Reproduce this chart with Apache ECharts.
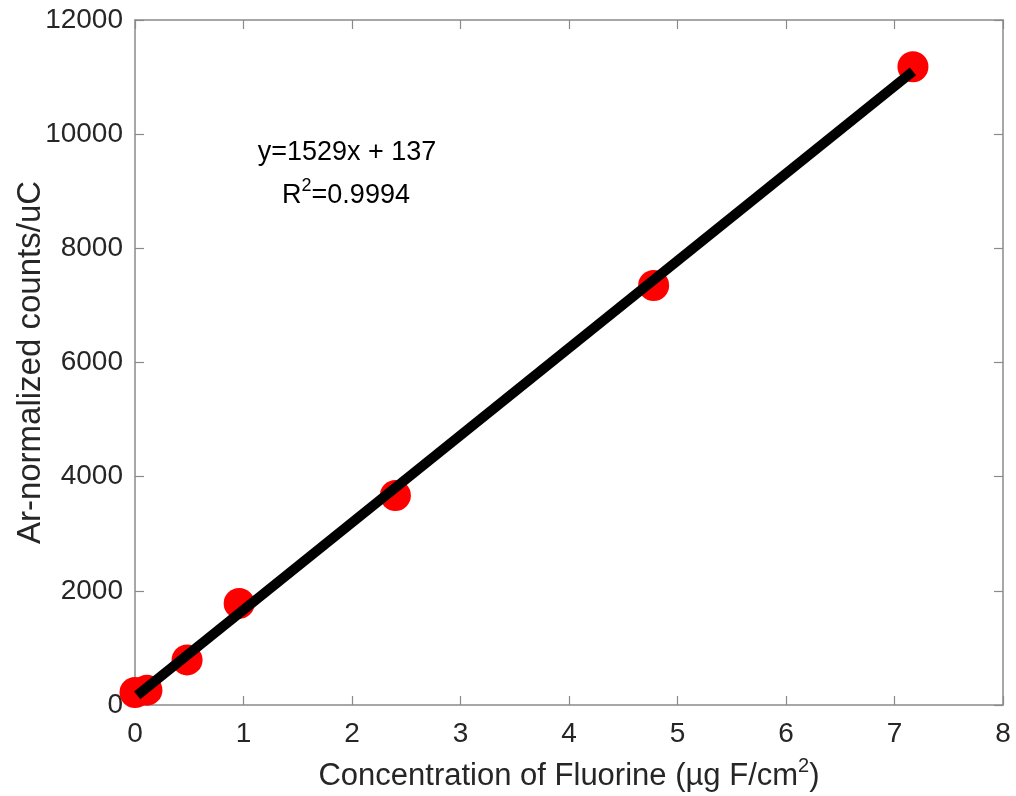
<!DOCTYPE html>
<html>
<head>
<meta charset="utf-8">
<script src="https://cdn.jsdelivr.net/npm/echarts@6/dist/echarts.min.js"></script>
<style>
html,body{margin:0;padding:0;background:#fff;}
#chart{width:1016px;height:796px;}
</style>
</head>
<body>
<div id="chart"></div>
<script>
const concentration = [0.0, 0.11, 0.48, 0.96, 2.40, 4.78, 7.17];
const counts = [220, 260, 790, 1780, 3670, 7350, 11180];
// Fit line endpoints (y=1529x + 137)
const fitX = [0.02, 7.17];
const fitY = [168, 11100];
const xTicks = [0, 1, 2, 3, 4, 5, 6, 7, 8];
const yTicks = [0, 2000, 4000, 6000, 8000, 10000, 12000];
const eqText = 'y=1529x + 137';
const r2Value = '0.9994';

const FONT = "'Liberation Sans', Arial, Helvetica, sans-serif";
const AX = '#8a8a8a';
const TXT = '#262626';

const chart = echarts.init(document.getElementById('chart'), null, {renderer: 'canvas'});

const hideLabelAxisCommon = {
  axisLine: {show: true, onZero: false, lineStyle: {color: AX, width: 1.5}},
  axisTick: {show: true, inside: true, length: 9, lineStyle: {color: AX, width: 1.2}},
  axisLabel: {show: false},
  splitLine: {show: false}
};

chart.setOption({
  animation: false,
  backgroundColor: '#fff',
  grid: {left: 135, right: 13, top: 20, bottom: 91, containLabel: false, outerBoundsMode: 'none'},
  xAxis: [{
    type: 'value', min: xTicks[0], max: xTicks[xTicks.length - 1], interval: 1,
    name: '{a|Concentration of Fluorine (µg F/cm}{s|2}{a|)}',
    nameLocation: 'middle', nameGap: 51, nameMoveOverlap: false,
    nameTextStyle: {
      rich: {
        a: {fontFamily: FONT, fontSize: 31, color: TXT, verticalAlign: 'bottom', lineHeight: 36},
        s: {fontFamily: FONT, fontSize: 20, color: TXT, verticalAlign: 'top', lineHeight: 36, padding: [0, 0, 16, 0]}
      }
    },
    axisLine: {show: true, onZero: false, lineStyle: {color: AX, width: 1.5}},
    axisTick: {show: true, inside: true, length: 9, lineStyle: {color: AX, width: 1.2}},
    axisLabel: {show: true, fontFamily: FONT, fontSize: 28, color: TXT, margin: 15, formatter: v => String(v)},
    splitLine: {show: false}
  }, Object.assign({
    type: 'value', position: 'top', min: xTicks[0], max: xTicks[xTicks.length - 1], interval: 1
  }, hideLabelAxisCommon)],
  yAxis: [{
    type: 'value', min: yTicks[0], max: yTicks[yTicks.length - 1], interval: 2000,
    name: 'Ar-normalized counts/uC',
    nameLocation: 'middle', nameGap: 88, nameMoveOverlap: false,
    nameTextStyle: {fontFamily: FONT, fontSize: 33, color: TXT},
    axisLine: {show: true, onZero: false, lineStyle: {color: AX, width: 1.5}},
    axisTick: {show: true, inside: true, length: 9, lineStyle: {color: AX, width: 1.2}},
    axisLabel: {show: true, fontFamily: FONT, fontSize: 28, color: TXT, margin: 12, formatter: v => String(v)},
    splitLine: {show: false}
  }, Object.assign({
    type: 'value', position: 'right', min: yTicks[0], max: yTicks[yTicks.length - 1], interval: 2000
  }, hideLabelAxisCommon)],
  series: [{
    type: 'scatter',
    data: concentration.map((c, i) => [c, counts[i]]),
    symbol: 'circle',
    symbolSize: 31,
    itemStyle: {color: '#ff0000', opacity: 1},
    z: 2
  }, {
    type: 'line',
    data: fitX.map((x, i) => [x, fitY[i]]),
    showSymbol: false,
    symbol: 'none',
    lineStyle: {color: '#000', width: 10, cap: 'butt'},
    z: 3
  }],
  graphic: [{
    type: 'text', x: 347, y: 153, z: 10,
    style: {
      text: eqText, align: 'center', verticalAlign: 'middle',
      font: '27px ' + FONT, fill: '#000'
    }
  }, {
    type: 'text', x: 346, y: 193, z: 10,
    style: {
      text: '{a|R}{s|2}{a|=' + r2Value + '}', align: 'center', verticalAlign: 'middle',
      rich: {
        a: {fontFamily: FONT, fontSize: 27, fill: '#000', verticalAlign: 'bottom', lineHeight: 32},
        s: {fontFamily: FONT, fontSize: 18, fill: '#000', verticalAlign: 'top', lineHeight: 32, padding: [0, 0, 14, 0]}
      }
    }
  }]
});
</script>
</body>
</html>
